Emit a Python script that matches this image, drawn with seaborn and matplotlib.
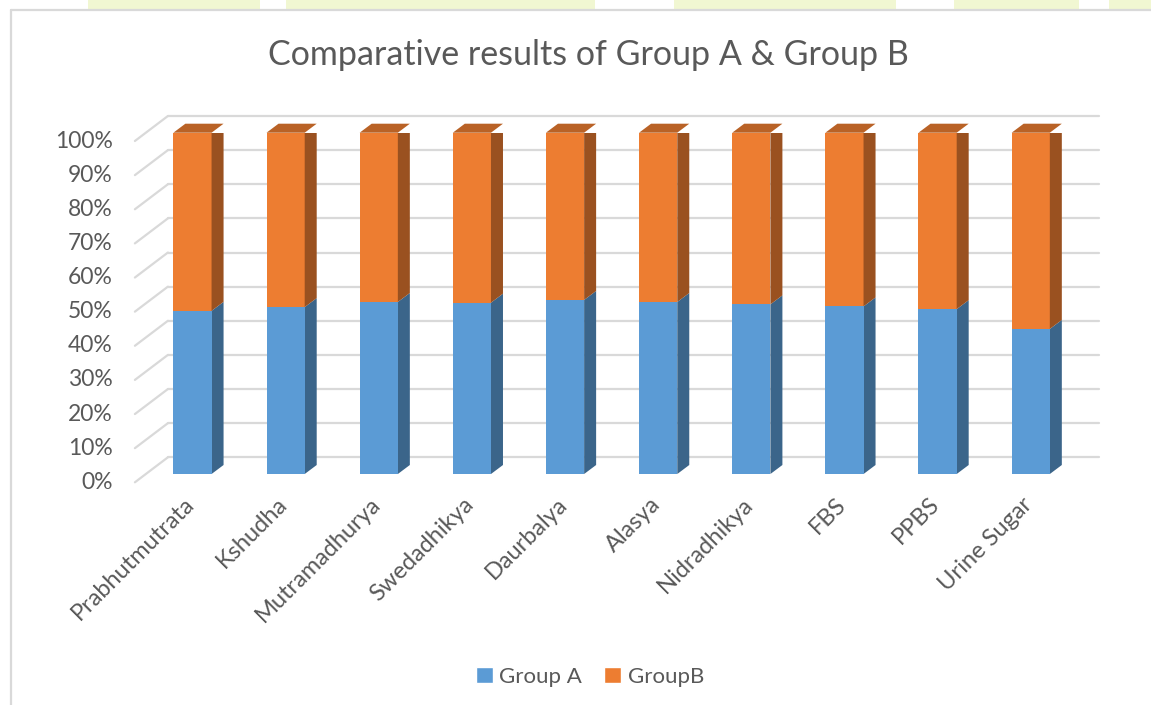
import numpy as np
import pandas as pd
import matplotlib
matplotlib.use("Agg")
import matplotlib.pyplot as plt
from matplotlib.patches import Polygon, Rectangle
import seaborn as sns

# values (percent of total)
categories = ["Prabhutmutrata", "Kshudha", "Mutramadhurya", "Swedadhikya", "Daurbalya",
              "Alasya", "Nidradhikya", "FBS", "PPBS", "Urine Sugar"]
group_a = [47.8, 48.9, 50.4, 50.2, 51.0, 50.4, 49.7, 49.1, 48.3, 42.5]
group_b = [52.2, 51.1, 49.6, 49.8, 49.0, 49.6, 50.3, 50.9, 51.7, 57.5]
yticks = [0, 10, 20, 30, 40, 50, 60, 70, 80, 90, 100]

BLUE, BLUE_SIDE = "#5B9BD5", "#3B658A"
ORANGE, ORANGE_SIDE, ORANGE_TOP = "#ED7D31", "#9A5120", "#B96226"
GRID, TXT = "#D9D9D9", "#595959"

sns.set_style("white")
plt.rcParams["font.family"] = ["Lato", "DejaVu Sans"]

W, H = 1151, 705
fig = plt.figure(figsize=(W / 100, H / 100), dpi=100)
# axes = the plane of the bar fronts
ax_l, ax_r, ax_b, ax_t = 145.9, 1077.3, 474.0, 132.7
ax = fig.add_axes([ax_l / W, (H - ax_b) / H, (ax_r - ax_l) / W, (ax_b - ax_t) / H])
ax.set_xlim(-0.5, 9.5)
ax.set_ylim(0, 100)
sx = (ax_r - ax_l) / 10.0   # px per category
sy = (ax_b - ax_t) / 100.0  # px per percent

# pseudo 3d offsets (pixels -> data units)
back_dx, back_dy = 22 / sx, 16.7 / sy
front_dx, front_dy = -11 / sx, -8.3 / sy
depth_dx, depth_dy = 12 / sx, 9 / sy

# back wall gridlines and the diagonal floor/side edges
for v in yticks:
    ax.plot([-0.5 + back_dx, 9.5 + back_dx], [v + back_dy, v + back_dy],
            color=GRID, lw=1.6, clip_on=False, zorder=0)
    ax.plot([-0.5 + front_dx, -0.5 + back_dx], [v + front_dy, v + back_dy],
            color=GRID, lw=1.6, clip_on=False, zorder=0)
    ax.text(-0.5 + front_dx - 22 / sx, v + front_dy, f"{v}%", ha="right", va="center",
            fontsize=16.5, color=TXT, clip_on=False)

df = pd.DataFrame({"cat": categories, "a": group_a, "b": group_b})
df["total"] = df["a"] + df["b"]

sns.barplot(data=df, x="cat", y="total", color=ORANGE, saturation=1, width=0.41,
            ax=ax, zorder=2, linewidth=0)
sns.barplot(data=df, x="cat", y="a", color=BLUE, saturation=1, width=0.41,
            ax=ax, zorder=3, linewidth=0)

n = len(categories)
orange_bars = ax.patches[:n]
blue_bars = ax.patches[n:2 * n]
for ob, bb in zip(orange_bars, blue_bars):
    x0 = ob.get_x()
    x1 = x0 + ob.get_width()
    top = ob.get_height()
    mid = bb.get_height()
    # right side faces
    ax.add_patch(Polygon([(x1, 0), (x1, mid), (x1 + depth_dx, mid + depth_dy), (x1 + depth_dx, depth_dy)],
                         closed=True, fc=BLUE_SIDE, ec="none", zorder=2.5))
    ax.add_patch(Polygon([(x1, mid), (x1, top), (x1 + depth_dx, top + depth_dy), (x1 + depth_dx, mid + depth_dy)],
                         closed=True, fc=ORANGE_SIDE, ec="none", zorder=2.5))
    # top face
    ax.add_patch(Polygon([(x0, top), (x1, top), (x1 + depth_dx, top + depth_dy), (x0 + depth_dx, top + depth_dy)],
                         closed=True, fc=ORANGE_TOP, ec="none", zorder=2.5, clip_on=False))

ax.set_xlabel("")
ax.set_ylabel("")
ax.set_xticks([])
ax.set_yticks([])
for s in ax.spines.values():
    s.set_visible(False)
ax.patch.set_alpha(0)

for i, c in enumerate(categories):
    ax.text(i - 1.5 / sx, -27 / sy, c, rotation=45, rotation_mode="anchor", ha="right",
            va="center", fontsize=17, color=TXT, clip_on=False)

fig.text(588 / W, 1 - 55 / H, "Comparative results of Group A & Group B", ha="center",
         va="center", fontsize=24.5, color=TXT)

handles = [Rectangle((0, 0), 1, 1, fc=BLUE), Rectangle((0, 0), 1, 1, fc=ORANGE)]
fig.legend(handles, ["Group A", "GroupB"], loc="center", bbox_to_anchor=(590 / W, 1 - 677 / H),
           ncol=2, frameon=False, fontsize=16, handlelength=0.75, handleheight=0.75,
           handletextpad=0.3, columnspacing=1.0, labelcolor=TXT)

# chart frame and the page background strip above it
for xa, xb in [(88, 260), (286, 595), (674, 896), (954, 1079), (1109, 1151)]:
    fig.patches.append(Rectangle((xa / W, 1 - 9 / H), (xb - xa) / W, 9 / H,
                                 transform=fig.transFigure, fc="#F1F7D2", ec="none"))
fig.lines.append(plt.Line2D([11 / W, 1], [1 - 10 / H, 1 - 10 / H], transform=fig.transFigure,
                            color=GRID, lw=1.6))
fig.lines.append(plt.Line2D([11 / W, 11 / W], [0, 1 - 10 / H], transform=fig.transFigure,
                            color=GRID, lw=1.6))

fig.savefig("out.png", dpi=100)
